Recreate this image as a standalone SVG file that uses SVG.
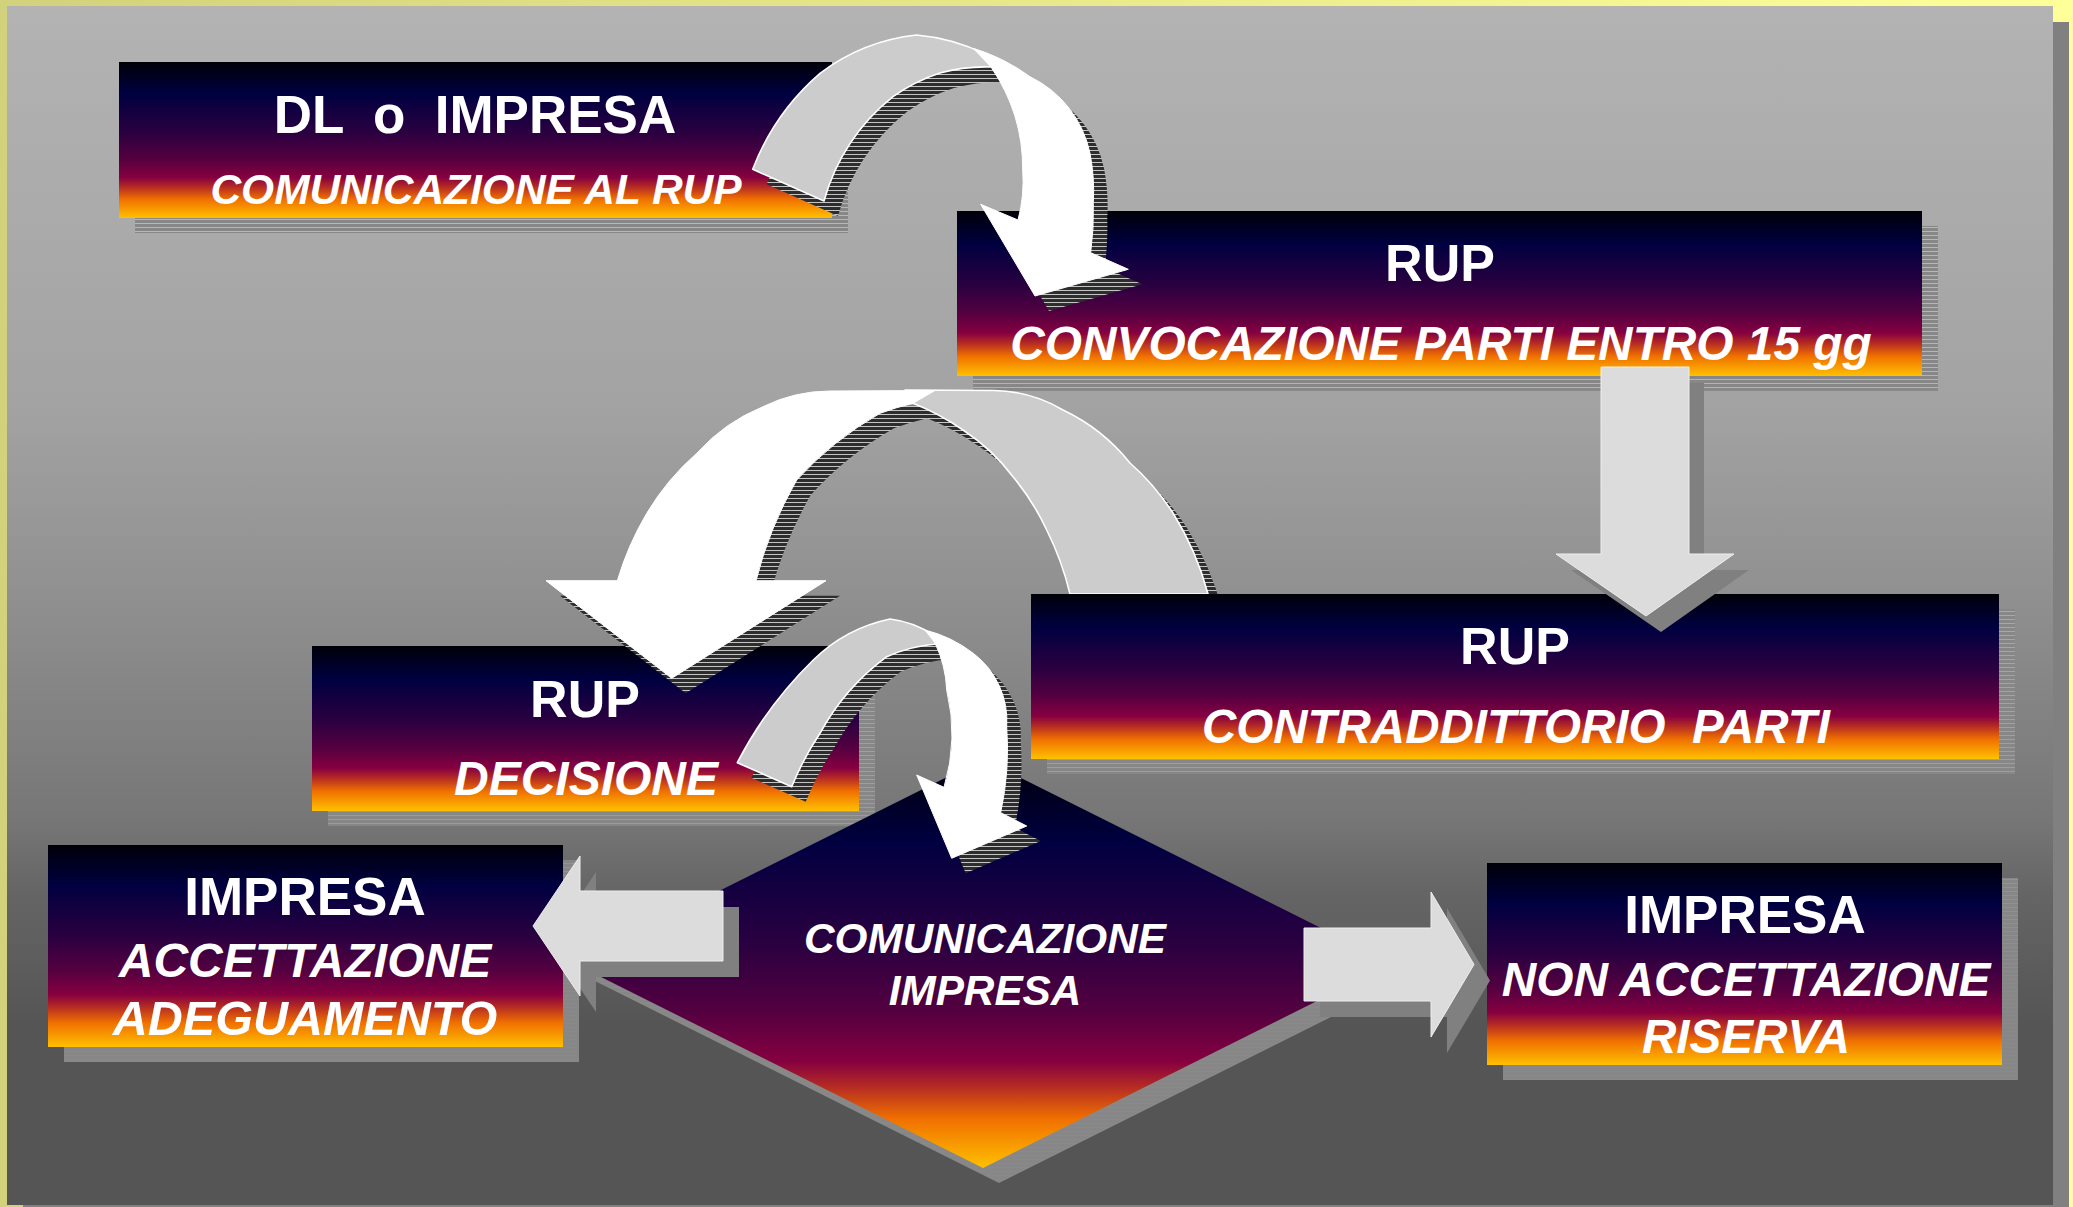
<svg xmlns="http://www.w3.org/2000/svg" width="2073" height="1207" viewBox="0 0 2073 1207">
<defs>
<linearGradient id="frame" x1="0" y1="0" x2="1" y2="0"><stop offset="0" stop-color="#d2d27c"/><stop offset="1" stop-color="#ffff99"/></linearGradient>
<linearGradient id="panel" gradientUnits="userSpaceOnUse" x1="0" y1="6" x2="0" y2="1205">
<stop offset="0" stop-color="#b3b3b3"/><stop offset="0.33" stop-color="#a3a3a3"/><stop offset="0.5" stop-color="#8f8f8f"/><stop offset="0.68" stop-color="#767676"/><stop offset="0.74" stop-color="#656565"/><stop offset="0.85" stop-color="#555555"/><stop offset="1" stop-color="#555555"/>
</linearGradient>
<linearGradient id="boxGrad" x1="0" y1="0" x2="0" y2="1">
<stop offset="0" stop-color="#000008"/><stop offset="0.2" stop-color="#000040"/><stop offset="0.45" stop-color="#2a0040"/><stop offset="0.62" stop-color="#550040"/><stop offset="0.74" stop-color="#860040"/><stop offset="0.8" stop-color="#b42a24"/><stop offset="0.88" stop-color="#f07000"/><stop offset="1" stop-color="#ffc000"/>
</linearGradient>
<pattern id="boxStripe" width="8" height="4" patternUnits="userSpaceOnUse"><rect width="8" height="3" fill="#878787"/><rect y="3" width="8" height="1" fill="#c8c8c8" fill-opacity="0.45"/></pattern>
<pattern id="darkStripe" width="8" height="4" patternUnits="userSpaceOnUse"><rect width="8" height="3" fill="#2d2d2d"/><rect y="3" width="8" height="1" fill="#c4c4c4"/></pattern>
<clipPath id="clipB"><path d="M0 0 H2073 V594 H1031 V1207 H0 Z"/></clipPath>
<path id="aBack" d="M752.7,169.3 A240 240 0 0 1 820,73.3 A195 195 0 0 1 916.7,35 A195 195 0 0 1 985,54 L991,67 A170 170 0 0 0 940,73 A170 170 0 0 0 893,96.7 A200 200 0 0 0 824,201 Z"/>
<path id="aFront" d="M973.3,48.3 A190 190 0 0 1 1030,76.7 A110 110 0 0 1 1090,153.3 A200 200 0 0 1 1093.3,203.3 A300 300 0 0 1 1090.7,252.7 L1128.3,269.3 L1035,296 L980.7,204.3 L1018,220 A150 150 0 0 0 1022.7,170 A180 180 0 0 0 991,67 Z"/>
<path id="bBack" d="M905,390 L994,390.5 A140 140 0 0 1 1063,410 A190 190 0 0 1 1130,463 A240 240 0 0 1 1173,513 A300 300 0 0 1 1208,594 L1070,594 A300 300 0 0 0 1046.7,530 A250 250 0 0 0 1013,476.7 A200 200 0 0 0 963,430 A250 250 0 0 0 913,403.3 L905,403 Z"/>
<path id="bFront" d="M935,390.5 L830,391 A151 151 0 0 0 763,406.7 A180 180 0 0 0 696.7,453.3 A250 250 0 0 0 646.7,513.3 A300 300 0 0 0 617.3,580.7 L546,580.7 L671.7,678.3 L826,580.7 L756,580.7 A400 400 0 0 1 796.7,480 A340 340 0 0 1 880,413.3 A300 300 0 0 1 913,403.3 Z"/>
<path id="cBack" d="M737.3,762.7 A400 400 0 0 1 813.3,660 A155 155 0 0 1 890,619 A100 100 0 0 1 935,636 L937,644 A150 150 0 0 0 886.7,656.7 A237 237 0 0 0 820,733.3 A300 300 0 0 0 791.7,786.7 Z"/>
<path id="cFront" d="M925,630 A130 130 0 0 1 973.3,653.3 A85 85 0 0 1 1006.7,726.7 A300 300 0 0 1 1000.7,812.7 L1026.7,826 L951.7,858.3 L916.7,775 L944,787.3 A185 185 0 0 0 946.7,690 A120 120 0 0 0 935,643 Z"/>
<polygon id="downArrow" points="1601,367 1689,367 1689,554 1734,554 1646,616 1556,554 1601,554"/>
<polygon id="leftArrow" points="533,926 580,856 580,891 723,891 723,961 580,961 580,996"/>
<polygon id="rightArrow" points="1304,928 1431,928 1431,892 1474,964.5 1431,1037 1431,1001 1304,1001"/>
</defs>
<style>
.node text{font-family:"Liberation Sans",Arial,sans-serif;font-weight:bold;fill:#ffffff;text-anchor:middle;white-space:pre}
.node .sub{font-style:italic}
.box{fill:url(#boxGrad)}
.bshadow{fill:url(#boxStripe)}
.back{fill:#cccccc;stroke:#ffffff;stroke-width:1.6;stroke-linejoin:round}
.front{fill:#ffffff;stroke:#ffffff;stroke-width:1;stroke-linejoin:round}
.ashadow{fill:url(#darkStripe)}
.block{fill:#dcdcdc;stroke:#eeeeee;stroke-width:1}
.bsolid{fill:#808080}
</style>

<g id="background">
<rect x="0" y="0" width="2073" height="1207" fill="url(#frame)"/>
<rect x="23" y="22" width="2046" height="1199" fill="#808080"/>
<rect x="7" y="6" width="2046" height="1199" fill="url(#panel)"/>
</g>

<g id="node-dl-impresa" class="node">
<rect class="bshadow" x="135" y="77" width="713" height="156"/>
<rect class="box" x="119" y="62" width="713" height="156"/>
<text x="475" y="133" font-size="53" xml:space="preserve">DL  o  IMPRESA</text>
<text class="sub" x="476" y="204" font-size="42.5">COMUNICAZIONE AL RUP</text>
</g>

<g id="node-rup-convocazione" class="node">
<rect class="bshadow" x="973" y="226" width="965" height="165"/>
<rect class="box" x="957" y="211" width="965" height="165"/>
<text x="1440" y="281" font-size="52">RUP</text>
<text class="sub" x="1441" y="360" font-size="47.8">CONVOCAZIONE PARTI ENTRO 15 gg</text>
</g>

<g id="node-rup-contraddittorio" class="node">
<rect class="bshadow" x="1047" y="609" width="968" height="165"/>
<rect class="box" x="1031" y="594" width="968" height="165"/>
<text x="1515" y="664" font-size="52">RUP</text>
<text class="sub" x="1516" y="743" font-size="47.5" xml:space="preserve">CONTRADDITTORIO  PARTI</text>
</g>

<g id="node-rup-decisione" class="node">
<rect class="bshadow" x="328" y="661" width="547" height="165"/>
<rect class="box" x="312" y="646" width="547" height="165"/>
<text x="585" y="717" font-size="52">RUP</text>
<text class="sub" x="586" y="795" font-size="48">DECISIONE</text>
</g>

<g id="node-impresa-accettazione" class="node">
<rect class="bshadow" x="64" y="860" width="515" height="202"/>
<rect class="box" x="48" y="845" width="515" height="202"/>
<text x="305" y="915" font-size="53">IMPRESA</text>
<text class="sub" x="305" y="977" font-size="48">ACCETTAZIONE</text>
<text class="sub" x="305" y="1035" font-size="48.5">ADEGUAMENTO</text>
</g>

<g id="node-comunicazione-impresa" class="node">
<polygon class="bshadow" points="999,774 1408,978.5 999,1183 590,978.5"/>
<polygon class="box" points="983,759 1392,963.5 983,1168 574,963.5"/>
<text class="sub" x="985" y="953" font-size="42.3">COMUNICAZIONE</text>
<text class="sub" x="985" y="1005" font-size="42.3">IMPRESA</text>
</g>

<g id="node-impresa-non-accettazione" class="node">
<rect class="bshadow" x="1503" y="878" width="515" height="202"/>
<rect class="box" x="1487" y="863" width="515" height="202"/>
<text x="1745" y="933" font-size="53">IMPRESA</text>
<text class="sub" x="1746" y="996" font-size="47.8">NON ACCETTAZIONE</text>
<text class="sub" x="1746" y="1053" font-size="47.6">RISERVA</text>
</g>

<g id="connectors">
<g id="arrow-contraddittorio-decisione" clip-path="url(#clipB)">
<use href="#bBack" class="ashadow" transform="translate(14,15)"/>
<use href="#bFront" class="ashadow" transform="translate(14,15)"/>
<use href="#bBack" class="back"/>
<use href="#bFront" class="front"/>
</g>
<g id="arrow-dl-convocazione">
<use href="#aBack" class="ashadow" transform="translate(14,15)"/>
<use href="#aFront" class="ashadow" transform="translate(14,15)"/>
<use href="#aBack" class="back"/>
<use href="#aFront" class="front"/>
</g>
<g id="arrow-convocazione-contraddittorio">
<use href="#downArrow" class="bsolid" transform="translate(15,16)"/>
<use href="#downArrow" class="block"/>
</g>
<g id="arrow-decisione-comunicazione">
<use href="#cBack" class="ashadow" transform="translate(14,15)"/>
<use href="#cFront" class="ashadow" transform="translate(14,15)"/>
<use href="#cBack" class="back"/>
<use href="#cFront" class="front"/>
</g>
<g id="arrow-comunicazione-accettazione">
<use href="#leftArrow" class="bsolid" transform="translate(16,16)"/>
<use href="#leftArrow" class="block"/>
</g>
<g id="arrow-comunicazione-riserva">
<use href="#rightArrow" class="bsolid" transform="translate(16,16)"/>
<use href="#rightArrow" class="block"/>
</g>
</g>
</svg>
